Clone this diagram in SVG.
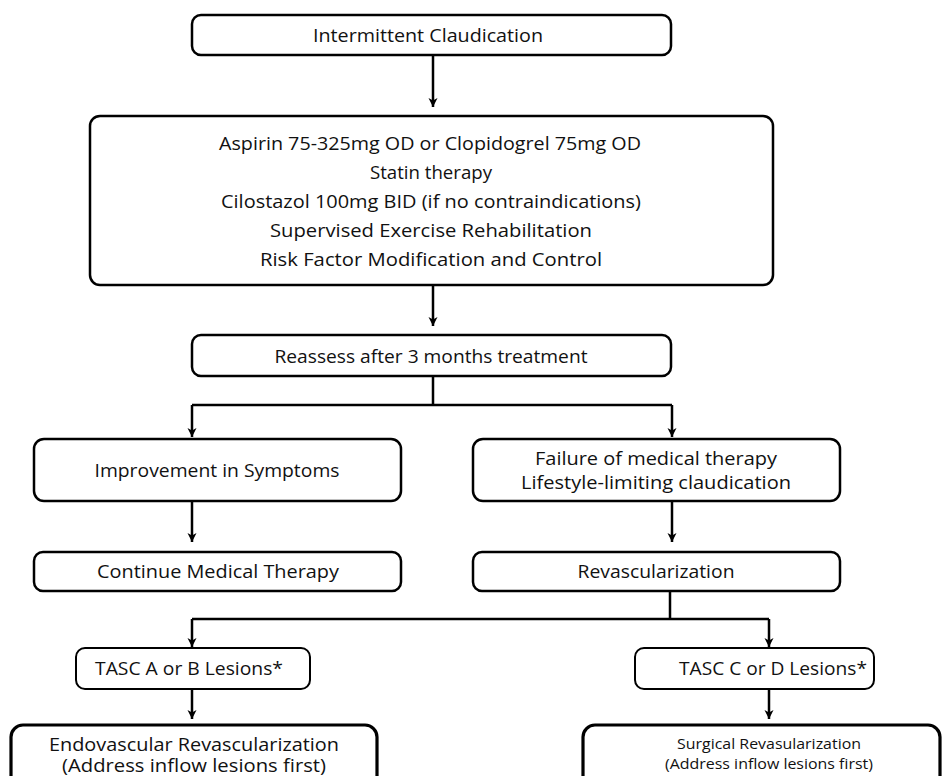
<svg xmlns="http://www.w3.org/2000/svg" width="943" height="776" viewBox="0 0 943 776">
<defs>
<style>
.box{fill:#fff;stroke:#000;stroke-width:2.5}
.thick{stroke-width:3.2}
.thin{stroke-width:2}
.t{font-family:"Open Sans","Liberation Sans",sans-serif;font-size:19px;fill:#111;text-anchor:middle;dominant-baseline:central}
.m{font-size:18px}
.s{font-size:15px}
.c{fill:none;stroke:#000;stroke-width:2.5}
</style>
<marker id="ah" markerUnits="userSpaceOnUse" markerWidth="10" markerHeight="10" viewBox="0 0 10 10" refX="9" refY="5" orient="auto">
<path d="M0,0.5 L9,5 L0,9.5 L2.5,5 z" fill="#000"/>
</marker>
</defs>
<rect width="943" height="776" fill="#fff"/>
<g id="connectors">
<path class="c" d="M433,55 V107" marker-end="url(#ah)"/>
<path class="c" d="M433,285 V326" marker-end="url(#ah)"/>
<path class="c" d="M433,376 V405 M192,405 H672"/>
<path class="c" d="M192,405 V437" marker-end="url(#ah)"/>
<path class="c" d="M672,405 V437" marker-end="url(#ah)"/>
<path class="c" d="M192,501 V542" marker-end="url(#ah)"/>
<path class="c" d="M672,501 V542" marker-end="url(#ah)"/>
<path class="c" d="M670,591 V619 M192,619 H769"/>
<path class="c" d="M192,619 V647" marker-end="url(#ah)"/>
<path class="c" d="M769,619 V647" marker-end="url(#ah)"/>
<path class="c" d="M192,689 V719" marker-end="url(#ah)"/>
<path class="c" d="M769,689 V719" marker-end="url(#ah)"/>
</g>
<g id="n1"><rect class="box" x="192" y="15" width="479" height="40" rx="9"/><text class="t" x="428" y="35" textLength="230" lengthAdjust="spacingAndGlyphs">Intermittent Claudication</text></g>
<g id="n2"><rect class="box" x="90" y="116" width="683" height="169" rx="10"/>
<text class="t" x="430" y="143" textLength="422" lengthAdjust="spacingAndGlyphs">Aspirin 75-325mg OD or Clopidogrel 75mg OD</text>
<text class="t" x="431" y="172" textLength="122" lengthAdjust="spacingAndGlyphs">Statin therapy</text>
<text class="t" x="431" y="201" textLength="420" lengthAdjust="spacingAndGlyphs">Cilostazol 100mg BID (if  no contraindications)</text>
<text class="t" x="431" y="230" textLength="322" lengthAdjust="spacingAndGlyphs">Supervised Exercise Rehabilitation</text>
<text class="t" x="431" y="259" textLength="342" lengthAdjust="spacingAndGlyphs">Risk Factor Modification and Control</text></g>
<g id="n3"><rect class="box" x="192" y="335" width="479" height="41" rx="9"/><text class="t" x="431" y="356" textLength="313" lengthAdjust="spacingAndGlyphs">Reassess after 3 months treatment</text></g>
<g id="n4"><rect class="box" x="34" y="439" width="367" height="62" rx="10"/><text class="t" x="217" y="470" textLength="245" lengthAdjust="spacingAndGlyphs">Improvement in Symptoms</text></g>
<g id="n5"><rect class="box" x="473" y="439" width="367" height="62" rx="10"/><text class="t" x="656" y="458" textLength="242" lengthAdjust="spacingAndGlyphs">Failure of medical therapy</text><text class="t" x="656" y="482" textLength="270" lengthAdjust="spacingAndGlyphs">Lifestyle-limiting claudication</text></g>
<g id="n6"><rect class="box" x="34" y="552" width="367" height="39" rx="9"/><text class="t" x="218" y="571" textLength="242" lengthAdjust="spacingAndGlyphs">Continue Medical Therapy</text></g>
<g id="n7"><rect class="box" x="473" y="552" width="367" height="39" rx="9"/><text class="t" x="656" y="571" textLength="157" lengthAdjust="spacingAndGlyphs">Revascularization</text></g>
<g id="n8"><rect class="box thin" x="76" y="648" width="234" height="41" rx="9"/><text class="t" x="189" y="668" textLength="188" lengthAdjust="spacingAndGlyphs">TASC A or B Lesions*</text></g>
<g id="n9"><rect class="box thin" x="635" y="648" width="239" height="41" rx="9"/><text class="t" x="773" y="668" textLength="188" lengthAdjust="spacingAndGlyphs">TASC C or D Lesions*</text></g>
<g id="n10"><rect class="box thick" x="11" y="725" width="366" height="80" rx="12"/><text class="t m" x="194" y="744" textLength="290" lengthAdjust="spacingAndGlyphs">Endovascular Revascularization</text><text class="t m" x="194" y="765" textLength="264" lengthAdjust="spacingAndGlyphs">(Address inflow lesions first)</text></g>
<g id="n11"><rect class="box thick" x="583" y="725" width="357" height="80" rx="12"/><text class="t s" x="769" y="743" textLength="184" lengthAdjust="spacingAndGlyphs">Surgical Revasularization</text><text class="t s" x="769" y="763" textLength="208" lengthAdjust="spacingAndGlyphs">(Address inflow lesions first)</text></g>
</svg>
